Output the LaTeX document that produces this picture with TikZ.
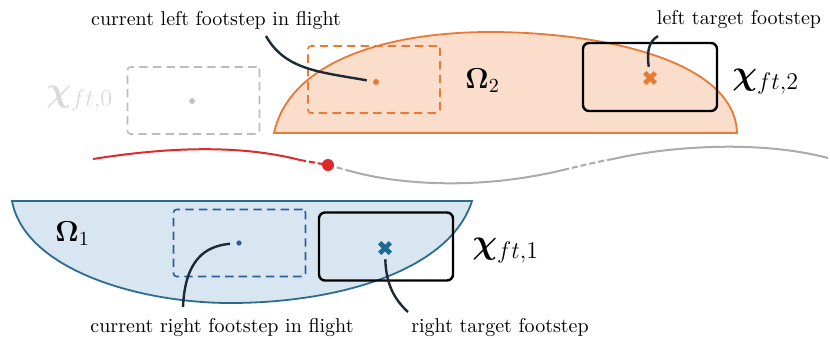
\documentclass[tikz,border=0pt]{standalone}
\usepackage{amsmath,amssymb,bm}
\usepackage{xcolor}
\usepackage{tikz}
\usetikzlibrary{shapes.misc,calc}
\definecolor{peach}{HTML}{FADDCB}
\definecolor{tangerine}{HTML}{E87A35}
\definecolor{ice}{HTML}{D8E6F2}
\definecolor{petrol}{HTML}{2F6C8C}
\definecolor{cobalt}{HTML}{2D5E9B}
\definecolor{steel}{HTML}{1F6A8F}
\definecolor{crimson}{HTML}{DE2A2A}
\definecolor{ash}{HTML}{ABABAB}
\definecolor{ink}{HTML}{1B2A35}
\newcommand{\chiset}[1]{\bm{\chi}_{ft,#1}}
\tikzset{
  region/.style={line width=0.9pt},
  flight/.style={draw,dash pattern=on 4.2pt off 2.6pt,line width=0.8pt,rounded corners=1.5pt,minimum width=66pt,minimum height=33.5pt,inner sep=0pt},
  target/.style={draw=black,line width=1.2pt,rounded corners=3pt,minimum width=67pt,minimum height=34pt,inner sep=0pt},
  foot/.style={circle,inner sep=0pt,minimum size=3pt},
  goal/.style={cross out,draw,line width=2.3pt,minimum size=3pt,inner sep=0pt},
  lead/.style={ink,line width=1.2pt,shorten >=3pt},
  lbl/.style={font=\normalsize,inner sep=0pt,anchor=base},
  setlbl/.style={font=\Large,inner sep=0pt,anchor=base west},
  chilbl/.style={font=\fontsize{16.5}{18}\selectfont,inner sep=0pt,anchor=base west},
  traj/.style={line width=1pt},
  trajd/.style={traj,dash pattern=on 3pt off 1.5pt},
}
\begin{document}
\begin{tikzpicture}[x=0.5pt,y=-0.5pt]
\useasboundingbox (0,0) rectangle (830,338);
% support regions
\draw[region,draw=tangerine,fill=peach] (274,133) .. controls (290,60) and (390,32) .. (490,32) .. controls (600,32) and (735,60) .. (737,133) -- cycle;
\draw[region,draw=petrol,fill=ice] (12,201) -- (472,201) .. controls (450,270) and (340,303) .. (230,303) .. controls (140,303) and (25,270) .. (12,201) -- cycle;
% trajectory
\draw[traj,crimson] (93,159) .. controls (150,150) and (230,142) .. (300,160);
\draw[trajd,crimson] (300,160) -- (328,165);
\draw[trajd,ash] (328,165) -- (350,171);
\draw[traj,ash] (350,171) .. controls (400,185) and (480,190) .. (563,170);
\draw[trajd,ash] (563,170) .. controls (580,166) and (596,162) .. (613,159);
\draw[traj,ash] (613,159) .. controls (670,146) and (760,140) .. (828,158);
\node[foot,fill=crimson,minimum size=6pt] (now) at (328,165) {};
% footsteps
\node[flight,draw=ash!80] (fs0) at (193.5,100.5) {};
\node[foot,fill=ash!70] (f0) at (192,101) {};
\node[flight,draw=tangerine] (fs2) at (374,79.5) {};
\node[foot,fill=tangerine] (f2) at (376,82) {};
\node[target] (t2) at (650,77) {};
\node[goal,draw=tangerine] (g2) at (650,78) {};
\node[flight,draw=cobalt] (fs1) at (239.5,243) {};
\node[foot,fill=cobalt,minimum size=2.6pt] (f1) at (239,243) {};
\node[target] (t1) at (386,246.5) {};
\node[goal,draw=steel] (g1) at (385,248) {};
% set labels
\node[setlbl] (om2) at (465,88) {$\mathbf{\Omega}_2$};
\node[setlbl] (om1) at (55,241) {$\mathbf{\Omega}_1$};
\node[chilbl] (x2) at (732,84) {$\chiset{2}$};
\node[chilbl] (x1) at (472,253) {$\chiset{1}$};
\node[chilbl,text=ash!45] (x0) at (46,101) {$\chiset{0}$};
% annotations
\node[lbl] (lflbl) at (216,25) {current left footstep in flight};
\node[lbl] (ltlbl) at (739,24) {left target footstep};
\node[lbl] (rflbl) at (222,332) {current right footstep in flight};
\node[lbl] (rtlbl) at (500,332) {right target footstep};
\coordinate (lfa) at (266,36);
\coordinate (lta) at (658,36);
\coordinate (rfa) at (183,307);
\coordinate (rta) at (408,312);
\draw[lead] (lfa) .. controls (285,70) and (320,72) .. (f2);
\draw[lead] (lta) .. controls (648,42) and (647,52) .. (g2);
\draw[lead] (rfa) .. controls (185,260) and (205,246) .. (f1);
\draw[lead] (rta) .. controls (395,300) and (386,285) .. (g1);
\end{tikzpicture}
\end{document}
